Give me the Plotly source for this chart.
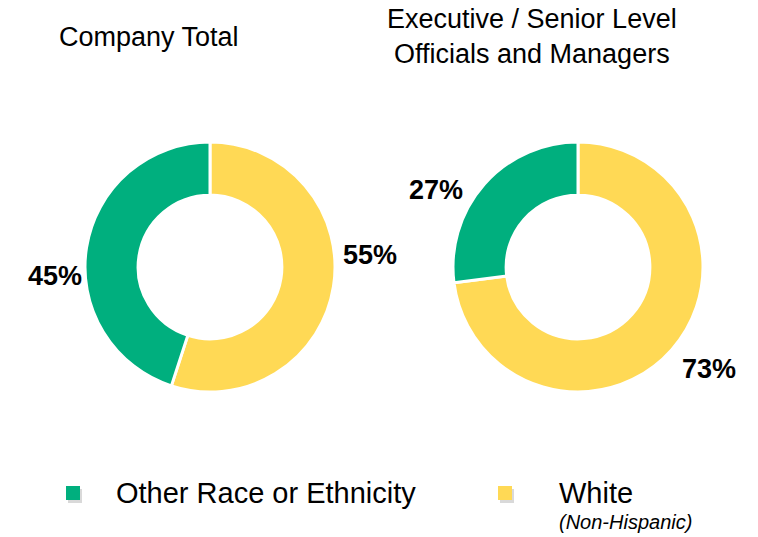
import plotly.graph_objects as go

# Workforce composition (percent)
groups = ["White", "Other Race or Ethnicity"]
company_total = [55, 45]
exec_senior = [73, 27]

panel_titles = ["Company Total", "Executive / Senior Level<br>Officials and Managers"]

GREEN = "#00AF7E"
YELLOW = "#FFD955"
colors = [YELLOW, GREEN]
FONT = "Liberation Sans, Arial, sans-serif"

W, H = 758, 537


def px(x):
    return x / W


def py(y):
    return 1 - y / H


fig = go.Figure()

domains = [
    dict(x=[px(85), px(335)], y=[py(392), py(142)]),
    dict(x=[px(453), px(703)], y=[py(392), py(142)]),
]

for vals, dom in zip([company_total, exec_senior], domains):
    fig.add_trace(go.Pie(
        labels=groups,
        values=vals,
        hole=0.575,
        sort=False,
        direction="clockwise",
        rotation=0,
        marker=dict(colors=colors, line=dict(color="white", width=3)),
        textinfo="none",
        hoverinfo="label+percent",
        domain=dom,
        showlegend=False,
    ))

annotations = []

# Panel titles
annotations.append(dict(x=px(149), y=py(37), text=panel_titles[0], showarrow=False,
                        xref="paper", yref="paper", font=dict(family=FONT, size=27, color="#000"),
                        xanchor="center", yanchor="middle"))
annotations.append(dict(x=px(532), y=py(37), text=panel_titles[1], showarrow=False,
                        xref="paper", yref="paper", font=dict(family=FONT, size=27, color="#000"),
                        xanchor="center", yanchor="middle"))

# Percentage labels
pct_pos = [
    [(370, 255), (55, 276)],
    [(709, 369), (436, 190)],
]
for vals, positions in zip([company_total, exec_senior], pct_pos):
    for v, (x, y) in zip(vals, positions):
        annotations.append(dict(x=px(x), y=py(y), text=f"<b>{v}%</b>", showarrow=False,
                                xref="paper", yref="paper",
                                font=dict(family=FONT, size=27, color="#000"),
                                xanchor="center", yanchor="middle"))

# Legend labels
annotations.append(dict(x=px(114), y=py(493), text="Other Race or Ethnicity", showarrow=False,
                        xref="paper", yref="paper", font=dict(family=FONT, size=29, color="#000"),
                        xanchor="left", yanchor="middle"))
annotations.append(dict(x=px(557), y=py(493), text="White", showarrow=False,
                        xref="paper", yref="paper", font=dict(family=FONT, size=29, color="#000"),
                        xanchor="left", yanchor="middle"))
annotations.append(dict(x=px(557), y=py(522), text="<i>(Non-Hispanic)</i>", showarrow=False,
                        xref="paper", yref="paper", font=dict(family=FONT, size=20, color="#000"),
                        xanchor="left", yanchor="middle"))

# Legend swatches with a soft drop shadow
shapes = []
for x0, col in [(66, GREEN), (498, YELLOW)]:
    shapes.append(dict(type="rect", xref="paper", yref="paper",
                       x0=px(x0 + 2), x1=px(x0 + 16), y0=py(503), y1=py(489),
                       fillcolor="rgba(0,0,0,0.15)", line=dict(width=0), layer="below"))
    shapes.append(dict(type="rect", xref="paper", yref="paper",
                       x0=px(x0), x1=px(x0 + 14), y0=py(500), y1=py(486),
                       fillcolor=col, line=dict(width=0)))

fig.update_layout(
    width=W, height=H,
    margin=dict(l=0, r=0, t=0, b=0),
    paper_bgcolor="white",
    plot_bgcolor="white",
    annotations=annotations,
    shapes=shapes,
)

fig.write_html("out.html")
